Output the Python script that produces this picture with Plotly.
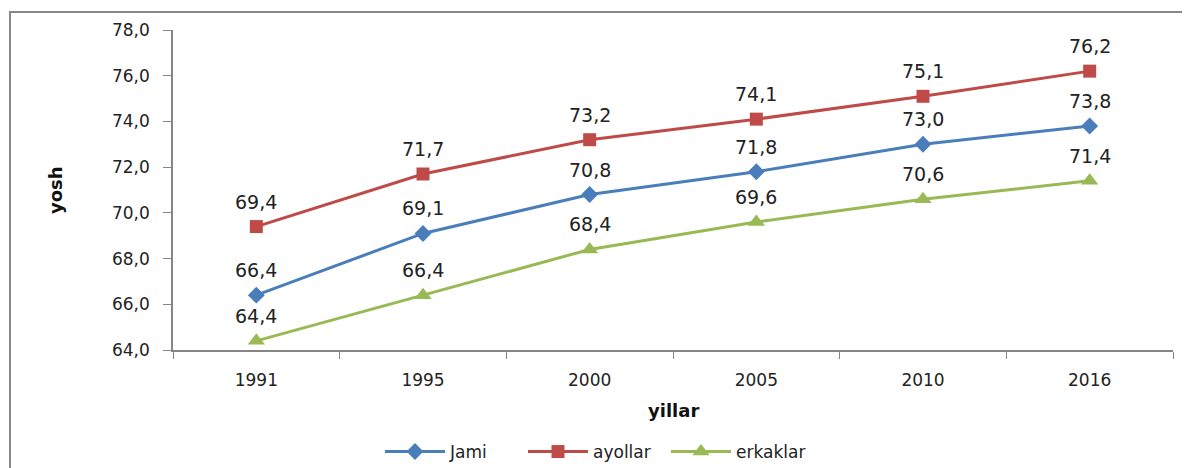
import plotly.graph_objects as go

years = ["1991", "1995", "2000", "2005", "2010", "2016"]
jami = [66.4, 69.1, 70.8, 71.8, 73.0, 73.8]
ayollar = [69.4, 71.7, 73.2, 74.1, 75.1, 76.2]
erkaklar = [64.4, 66.4, 68.4, 69.6, 70.6, 71.4]
y_ticks = [64, 66, 68, 70, 72, 74, 76, 78]

FONT = "DejaVu Sans, Arial"
series = [
    ("Jami", jami, "#4A7EBB", "diamond", 13),
    ("ayollar", ayollar, "#BE4B48", "square", 13),
    ("erkaklar", erkaklar, "#98B954", "triangle-up", 15),
]

fig = go.Figure()
annotations = []
for name, vals, color, sym, ms in series:
    fig.add_trace(go.Scatter(
        x=years, y=vals, name=name, mode="lines+markers",
        line=dict(color=color, width=3),
        marker=dict(symbol=sym, size=ms, color=color),
    ))
    for i, v in enumerate(vals):
        annotations.append(dict(
            x=i, y=v, xref="x", yref="y", text=f"{v:.1f}".replace(".", ","), showarrow=False,
            yshift=25, font=dict(family=FONT, size=19, color="#222222"),
        ))

annotations.append(dict(xref="paper", yref="paper", x=0.5, y=-0.1875, yanchor="middle",
                        text="<b>yillar</b>", showarrow=False,
                        font=dict(family=FONT, size=18, color="#111111")))
annotations.append(dict(xref="paper", yref="paper", x=-0.118, y=0.5, xanchor="center", yanchor="middle",
                        text="<b>yosh</b>", textangle=-90, showarrow=False,
                        font=dict(family=FONT, size=18, color="#111111")))

fig.update_layout(
    width=1190, height=468,
    margin=dict(l=165, r=25, t=22, b=126, autoexpand=False),
    paper_bgcolor="white", plot_bgcolor="white",
    showlegend=True,
    legend=dict(orientation="h", x=0.207, xanchor="left", yref="container", y=0.0513, yanchor="middle",
                font=dict(family=FONT, size=17, color="#222222"),
                itemwidth=60, entrywidth=68, bgcolor="rgba(0,0,0,0)"),
    annotations=annotations,
    shapes=[dict(type="rect", xref="paper", yref="paper", x0=-0.163, x1=1.012, y0=-0.5, y1=1.056,
                 line=dict(color="#888888", width=2), fillcolor="rgba(0,0,0,0)", layer="below")],
)
fig.update_xaxes(
    type="category", showgrid=False, showline=True, linecolor="#868686", linewidth=1.5,
    ticks="outside", tickson="boundaries", ticklen=7, tickcolor="#868686",
    tickfont=dict(family=FONT, size=17, color="#222222"),
    ticklabelstandoff=14,
    range=[-0.5, 5.5],
)
fig.update_yaxes(
    range=[64, 78], tickvals=y_ticks, ticktext=[f"{t:.1f}".replace(".", ",") for t in y_ticks],
    showgrid=False, showline=True, linecolor="#868686", linewidth=1.5,
    ticks="outside", ticklen=8, tickcolor="#868686", zeroline=False,
    tickfont=dict(family=FONT, size=17, color="#222222"),
    ticklabelstandoff=10,
)
fig.write_html("out.html")
